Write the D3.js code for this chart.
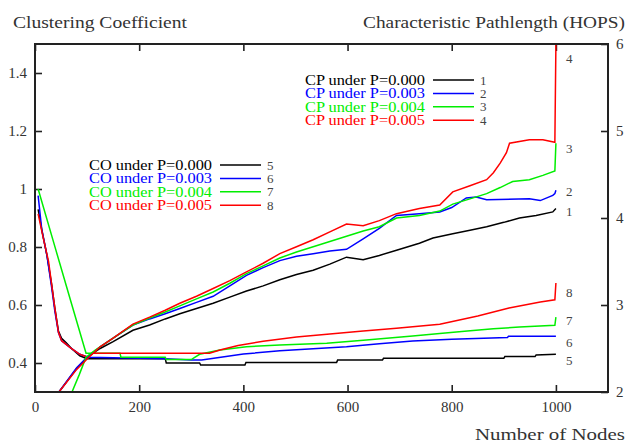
<!DOCTYPE html>
<html>
<head>
<meta charset="utf-8">
<script src="https://cdn.jsdelivr.net/npm/d3@7"></script>
<style>
  body { margin: 0; background: #fff; }
  svg text { font-family: "Liberation Serif", "DejaVu Serif", serif; }
</style>
</head>
<body>
<svg id="chart"></svg>
<script>
// axis ticks
const xTicks = [0, 200, 400, 600, 800, 1000];
const leftTicks = [0.4, 0.6, 0.8, 1, 1.2, 1.4];
const leftTickLabels = ["0.4", "0.6", "0.8", "1", "1.2", "1.4"];
const rightTicks = [2, 3, 4, 5, 6];

const colors = ["#000000", "#0000ff", "#00ee00", "#ff0000"];
const pLabels = ["0.000", "0.003", "0.004", "0.005"];

// clustering coefficient (left axis)
const coNodes0 = [6, 13, 23, 32, 38, 45, 51, 60, 70, 86, 100, 250, 252, 316, 318, 403, 405, 579, 581, 667, 669, 900, 902, 960, 962, 1000];
const coVals0  = [0.93, 0.86, 0.77, 0.67, 0.59, 0.51, 0.485, 0.47, 0.45, 0.425, 0.415, 0.415, 0.40, 0.40, 0.393, 0.393, 0.402, 0.402, 0.41, 0.41, 0.416, 0.416, 0.422, 0.422, 0.428, 0.43];

const coNodes3 = [6, 13, 23, 32, 38, 45, 51, 67, 86, 102, 150, 250, 300, 320, 400, 470, 598, 661, 725, 800, 907, 909, 1000];
const coVals3  = [0.977, 0.86, 0.77, 0.66, 0.58, 0.505, 0.477, 0.454, 0.43, 0.42, 0.418, 0.415, 0.41, 0.41, 0.431, 0.442, 0.456, 0.466, 0.476, 0.482, 0.488, 0.492, 0.492];

const coNodes4 = [6, 40, 70, 98, 163, 165, 250, 252, 300, 316, 355, 406, 470, 560, 636, 725, 777, 830, 880, 930, 998, 1000];
const coVals4  = [1.0, 0.79, 0.605, 0.434, 0.434, 0.42, 0.42, 0.412, 0.412, 0.43, 0.445, 0.456, 0.462, 0.468, 0.479, 0.493, 0.502, 0.51, 0.518, 0.524, 0.53, 0.558];

const coNodes5 = [6, 16, 26, 32, 38, 45, 51, 67, 86, 102, 110, 335, 355, 390, 438, 502, 566, 630, 694, 777, 850, 910, 970, 998, 1000];
const coVals5  = [0.914, 0.83, 0.75, 0.67, 0.59, 0.506, 0.477, 0.454, 0.43, 0.42, 0.434, 0.434, 0.445, 0.46, 0.475, 0.49, 0.50, 0.51, 0.52, 0.534, 0.562, 0.59, 0.61, 0.618, 0.676];

// characteristic pathlength (right axis)
const cpNodes0 = [46, 80, 100, 125, 150, 188, 220, 250, 278, 310, 342, 374, 406, 438, 470, 502, 534, 566, 598, 630, 661, 694, 738, 764, 802, 835, 867, 900, 930, 962, 994, 1000];
const cpVals0  = [2.0, 2.27, 2.40, 2.50, 2.58, 2.71, 2.77, 2.84, 2.90, 2.96, 3.02, 3.09, 3.16, 3.22, 3.29, 3.35, 3.40, 3.47, 3.55, 3.52, 3.57, 3.63, 3.71, 3.77, 3.82, 3.86, 3.90, 3.95, 4.0, 4.03, 4.07, 4.11];

const cpNodes3 = [46, 80, 100, 125, 150, 188, 220, 250, 278, 310, 342, 374, 406, 438, 470, 502, 534, 566, 598, 630, 661, 694, 738, 777, 800, 828, 847, 867, 949, 970, 994, 998, 1000];
const cpVals3  = [2.0, 2.28, 2.40, 2.52, 2.62, 2.77, 2.84, 2.90, 2.96, 3.03, 3.10, 3.22, 3.34, 3.43, 3.51, 3.56, 3.59, 3.62, 3.64, 3.76, 3.88, 4.03, 4.05, 4.07, 4.12, 4.23, 4.24, 4.21, 4.22, 4.20, 4.26, 4.28, 4.32];

const cpNodes4 = [71, 85, 98, 115, 135, 160, 188, 220, 250, 278, 310, 342, 374, 406, 438, 470, 502, 534, 566, 598, 630, 661, 694, 738, 777, 802, 835, 867, 893, 917, 949, 975, 998, 1000];
const cpVals4  = [2.0, 2.2, 2.40, 2.48, 2.56, 2.66, 2.77, 2.85, 2.92, 2.99, 3.07, 3.15, 3.25, 3.36, 3.45, 3.54, 3.61, 3.67, 3.73, 3.79, 3.85, 3.90, 4.0, 4.03, 4.08, 4.16, 4.22, 4.28, 4.35, 4.42, 4.44, 4.49, 4.54, 4.86];

const cpNodes5 = [46, 80, 100, 125, 150, 188, 220, 250, 278, 310, 342, 374, 406, 438, 470, 502, 534, 566, 598, 630, 661, 694, 738, 777, 802, 835, 867, 880, 893, 905, 911, 949, 975, 998, 1000];
const cpVals5  = [2.0, 2.26, 2.38, 2.52, 2.62, 2.78, 2.86, 2.94, 3.02, 3.10, 3.19, 3.28, 3.38, 3.48, 3.59, 3.67, 3.75, 3.84, 3.93, 3.91, 3.97, 4.05, 4.11, 4.15, 4.30, 4.37, 4.44, 4.52, 4.63, 4.75, 4.86, 4.90, 4.90, 4.87, 6.0];

// where the small numbers sit at the right end of each curve
const cpLabelAt = [4.07, 4.31, 4.80, 5.83];
const coLabelAt = [0.41, 0.472, 0.548, 0.645];

const coSeries = [[coNodes0, coVals0], [coNodes3, coVals3], [coNodes4, coVals4], [coNodes5, coVals5]];
const cpSeries = [[cpNodes0, cpVals0], [cpNodes3, cpVals3], [cpNodes4, cpVals4], [cpNodes5, cpVals5]];

const width = 627, height = 444;
const plotLeft = 35, plotRight = 608, plotTop = 44, plotBottom = 392;

const svg = d3.select("#chart").attr("width", width).attr("height", height);

const x = d3.scaleLinear().domain([0, 1100]).range([plotLeft, plotRight]);
const yL = d3.scaleLinear().domain([0.3, 1.5]).range([plotBottom, plotTop]);
const yR = d3.scaleLinear().domain([2, 6]).range([plotBottom, plotTop]);

svg.append("defs").append("clipPath").attr("id", "plotClip")
  .append("rect")
  .attr("x", plotLeft).attr("y", plotTop)
  .attr("width", plotRight - plotLeft).attr("height", plotBottom - plotTop);

// axes (ticks point inward)
const tickColor = "#222";
const labelColor = "#333";

svg.append("g")
  .attr("transform", `translate(0,${plotBottom})`)
  .call(d3.axisBottom(x).tickValues(xTicks).tickSizeInner(-7).tickSizeOuter(0).tickPadding(9)
    .tickFormat(d3.format("d")))
  .call(g => g.select(".domain").remove());

svg.append("g")
  .attr("transform", `translate(0,${plotTop})`)
  .call(d3.axisTop(x).tickValues(xTicks).tickSizeInner(-7).tickSizeOuter(0).tickFormat(""))
  .call(g => g.select(".domain").remove());

svg.append("g")
  .attr("transform", `translate(${plotLeft},0)`)
  .call(d3.axisLeft(yL).tickValues(leftTicks).tickSizeInner(-7).tickSizeOuter(0).tickPadding(8)
    .tickFormat((d, i) => leftTickLabels[i]))
  .call(g => g.select(".domain").remove());

svg.append("g")
  .attr("transform", `translate(${plotRight},0)`)
  .call(d3.axisRight(yR).tickValues(rightTicks).tickSizeInner(-7).tickSizeOuter(0).tickPadding(8)
    .tickFormat(d3.format("d")))
  .call(g => g.select(".domain").remove());

svg.selectAll(".tick line").attr("stroke", tickColor).attr("stroke-width", 1.6);
svg.selectAll(".tick text")
  .attr("fill", labelColor)
  .style("font-family", '"Liberation Serif", serif')
  .style("font-size", "15px");

// curves
const lineL = d3.line().x(d => x(d[0])).y(d => yL(d[1]));
const lineR = d3.line().x(d => x(d[0])).y(d => yR(d[1]));

const plot = svg.append("g").attr("clip-path", "url(#plotClip)");

coSeries.forEach(([nodes, vals], i) => {
  plot.append("path")
    .datum(nodes.map((n, k) => [n, vals[k]]))
    .attr("d", lineL)
    .attr("fill", "none")
    .attr("stroke", colors[i])
    .attr("stroke-width", 1.5);
});

cpSeries.forEach(([nodes, vals], i) => {
  plot.append("path")
    .datum(nodes.map((n, k) => [n, vals[k]]))
    .attr("d", lineR)
    .attr("fill", "none")
    .attr("stroke", colors[i])
    .attr("stroke-width", 1.5);
});

// frame
svg.append("rect")
  .attr("x", plotLeft).attr("y", plotTop)
  .attr("width", plotRight - plotLeft).attr("height", plotBottom - plotTop)
  .attr("fill", "none")
  .attr("stroke", tickColor)
  .attr("stroke-width", 2);

// end labels
const endX = x(1000) + 10;
cpLabelAt.forEach((v, i) => {
  svg.append("text")
    .attr("x", endX).attr("y", yR(v)).attr("dy", "0.35em")
    .attr("fill", "#444").style("font-size", "13px")
    .text(i + 1);
});
coLabelAt.forEach((v, i) => {
  svg.append("text")
    .attr("x", endX).attr("y", yL(v)).attr("dy", "0.35em")
    .attr("fill", "#444").style("font-size", "13px")
    .text(i + 5);
});

// legends
function legend(x0, y0, prefix, startNum, textWidth) {
  const g = svg.append("g");
  pLabels.forEach((p, i) => {
    const yy = y0 + i * 13.4;
    g.append("text")
      .attr("x", x0 - textWidth).attr("y", yy).attr("dy", "0.35em")
      .attr("textLength", textWidth)
      .attr("lengthAdjust", "spacingAndGlyphs")
      .attr("fill", colors[i])
      .style("font-size", "14.5px")
      .text(`${prefix} under P=${p}`);
    g.append("line")
      .attr("x1", x0 + 8).attr("x2", x0 + 49)
      .attr("y1", yy).attr("y2", yy)
      .attr("stroke", colors[i]).attr("stroke-width", 1.5);
    g.append("text")
      .attr("x", x0 + 55).attr("y", yy).attr("dy", "0.35em")
      .attr("fill", "#444")
      .style("font-size", "13px")
      .text(startNum + i);
  });
}
legend(425, 80, "CP", 1, 120);
legend(212, 165, "CO", 5, 123);

// titles
svg.append("text")
  .attr("x", 13).attr("y", 28)
  .attr("textLength", 174).attr("lengthAdjust", "spacingAndGlyphs")
  .attr("fill", "#333").style("font-size", "17px")
  .text("Clustering Coefficient");

svg.append("text")
  .attr("x", 363).attr("y", 28)
  .attr("textLength", 262).attr("lengthAdjust", "spacingAndGlyphs")
  .attr("fill", "#333").style("font-size", "17px")
  .text("Characteristic Pathlength (HOPS)");

svg.append("text")
  .attr("x", 475).attr("y", 440)
  .attr("textLength", 150).attr("lengthAdjust", "spacingAndGlyphs")
  .attr("fill", "#333").style("font-size", "17px")
  .text("Number of Nodes");
</script>
</body>
</html>
